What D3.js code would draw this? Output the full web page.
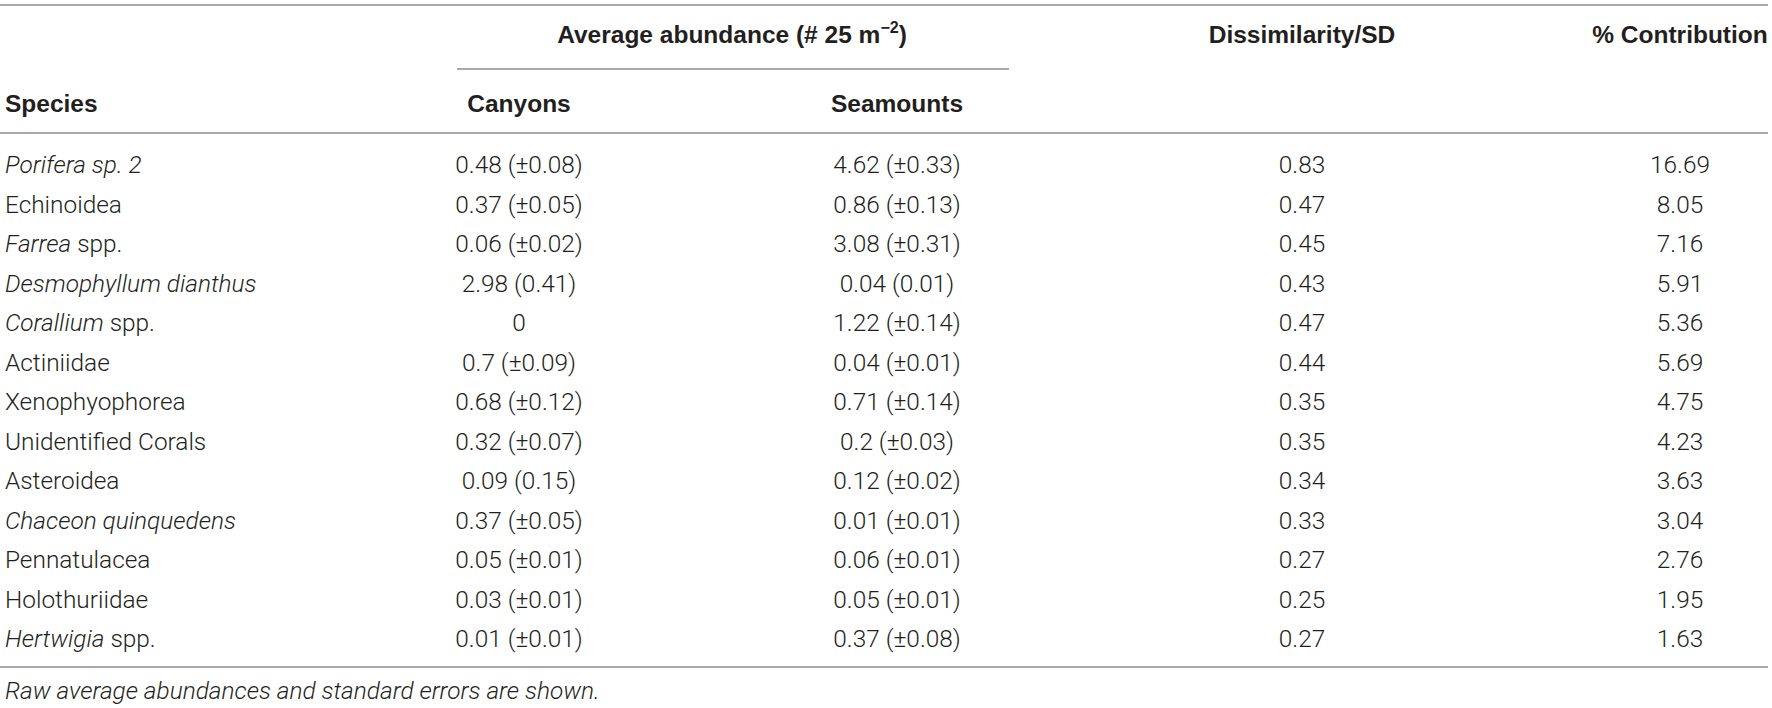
<!DOCTYPE html>
<html>
<head>
<meta charset="utf-8">
<script src="https://cdn.jsdelivr.net/npm/d3@7"></script>
<style>
  html, body { margin: 0; padding: 0; background: #fff; }
  svg { display: block; }
</style>
</head>
<body>
<div id="table-area"></div>
<script>
// Donnees du tableau
const species = [
  "Porifera sp. 2", "Echinoidea", "Farrea spp.", "Desmophyllum dianthus",
  "Corallium spp.", "Actiniidae", "Xenophyophorea", "Unidentified Corals",
  "Asteroidea", "Chaceon quinquedens", "Pennatulacea", "Holothuriidae", "Hertwigia spp."
];
// partie en italique du nom
const italicPart = [
  "Porifera sp. 2", "", "Farrea", "Desmophyllum dianthus",
  "Corallium", "", "", "",
  "", "Chaceon quinquedens", "", "", "Hertwigia"
];
const canyonsMean = [0.48, 0.37, 0.06, 2.98, 0, 0.7, 0.68, 0.32, 0.09, 0.37, 0.05, 0.03, 0.01];
const canyonsSE   = [0.08, 0.05, 0.02, 0.41, null, 0.09, 0.12, 0.07, 0.15, 0.05, 0.01, 0.01, 0.01];
const canyonsPM   = [true, true, true, false, false, true, true, true, false, true, true, true, true];
const seamountsMean = [4.62, 0.86, 3.08, 0.04, 1.22, 0.04, 0.71, 0.2, 0.12, 0.01, 0.06, 0.05, 0.37];
const seamountsSE   = [0.33, 0.13, 0.31, 0.01, 0.14, 0.01, 0.14, 0.03, 0.02, 0.01, 0.01, 0.01, 0.08];
const seamountsPM   = [true, true, true, false, true, true, true, true, true, true, true, true, true];
const dissimSD = [0.83, 0.47, 0.45, 0.43, 0.47, 0.44, 0.35, 0.35, 0.34, 0.33, 0.27, 0.25, 0.27];
const contribution = [16.69, 8.05, 7.16, 5.91, 5.36, 5.69, 4.75, 4.23, 3.63, 3.04, 2.76, 1.95, 1.63];
const footnote = "Raw average abundances and standard errors are shown.";

// Dimensions
const width = 1772, height = 708;
const textColor = "#231f20", ruleColor = "#8c8c8c";
const bodyFont = "Roboto, 'Liberation Sans', sans-serif";
const headFont = "'Liberation Sans', Arial, sans-serif";

const svg = d3.select("#table-area")
  .append("svg")
  .attr("width", width)
  .attr("height", height);

// Echelles : colonnes et lignes
const columns = ["species", "canyons", "seamounts", "dissim", "contrib"];
const x = d3.scaleOrdinal()
  .domain(columns)
  .range([5, 519, 897, 1302, 1680]);
const y = d3.scaleBand()
  .domain(species)
  .range([144.25, 657.75])
  .paddingInner(0);

// Lignes horizontales
const rules = [
  {x1: 0, x2: 1768, y: 5},
  {x1: 457, x2: 1009, y: 69},
  {x1: 0, x2: 1768, y: 133},
  {x1: 0, x2: 1768, y: 667}
];
svg.selectAll("line.rule")
  .data(rules)
  .join("line")
  .attr("class", "rule")
  .attr("x1", d => d.x1)
  .attr("x2", d => d.x2)
  .attr("y1", d => d.y)
  .attr("y2", d => d.y)
  .attr("stroke", ruleColor)
  .attr("stroke-width", 1.6);

// En-tetes
const head = svg.append("g")
  .attr("font-family", headFont)
  .attr("font-weight", "bold")
  .attr("font-size", 24.5)
  .attr("fill", textColor);

const avg = head.append("text")
  .attr("x", 732)
  .attr("y", 43)
  .attr("text-anchor", "middle");
avg.append("tspan").text("Average abundance (# 25 m");
avg.append("tspan").attr("font-size", 16).attr("dy", -10).text("\u22122");
avg.append("tspan").attr("dy", 10).text(")");

head.append("text").attr("x", x("dissim")).attr("y", 43)
  .attr("text-anchor", "middle").text("Dissimilarity/SD");
head.append("text").attr("x", x("contrib")).attr("y", 43)
  .attr("text-anchor", "middle").text("% Contribution");
head.append("text").attr("x", x("species")).attr("y", 112)
  .attr("text-anchor", "start").text("Species");
head.append("text").attr("x", x("canyons")).attr("y", 112)
  .attr("text-anchor", "middle").text("Canyons");
head.append("text").attr("x", x("seamounts")).attr("y", 112)
  .attr("text-anchor", "middle").text("Seamounts");

// Corps du tableau
function cell(mean, se, pm) {
  if (se === null) return String(mean);
  return `${mean} (${pm ? "\u00b1" : ""}${se})`;
}

const rows = species.map((s, i) => ({
  species: s,
  ital: italicPart[i],
  canyons: cell(canyonsMean[i], canyonsSE[i], canyonsPM[i]),
  seamounts: cell(seamountsMean[i], seamountsSE[i], seamountsPM[i]),
  dissim: String(dissimSD[i]),
  contrib: String(contribution[i])
}));

const body = svg.append("g")
  .attr("font-family", bodyFont)
  .attr("font-weight", 300)
  .attr("font-size", 24.4)
  .attr("fill", textColor);

const row = body.selectAll("g.row")
  .data(rows)
  .join("g")
  .attr("class", "row")
  .attr("transform", d => `translate(0,${y(d.species) + y.bandwidth() / 2 + 9})`);

// nom d'espece (italique partiel)
const name = row.append("text")
  .attr("x", x("species"))
  .attr("text-anchor", "start");
name.each(function(d) {
  const t = d3.select(this);
  if (d.ital) {
    t.append("tspan").attr("font-style", "italic").text(d.ital);
    const rest = d.species.slice(d.ital.length);
    if (rest) t.append("tspan").text(rest);
  } else {
    t.append("tspan").text(d.species);
  }
});

["canyons", "seamounts", "dissim", "contrib"].forEach(k => {
  row.append("text")
    .attr("x", x(k))
    .attr("text-anchor", "middle")
    .text(d => d[k]);
});

// Note
svg.append("text")
  .attr("x", 5)
  .attr("y", 699)
  .attr("font-family", bodyFont)
  .attr("font-weight", 300)
  .attr("font-style", "italic")
  .attr("font-size", 24.4)
  .attr("fill", textColor)
  .text(footnote);
</script>
</body>
</html>
